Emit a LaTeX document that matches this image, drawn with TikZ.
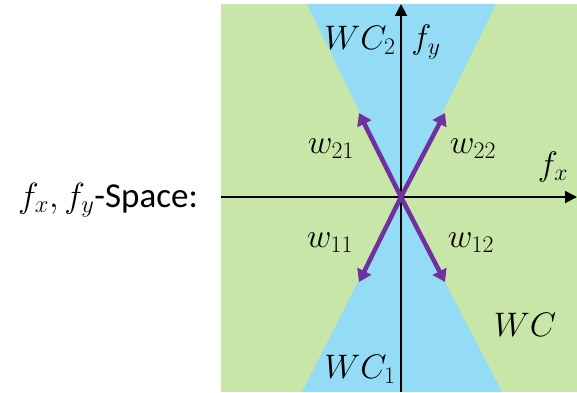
\RequirePackage{fix-cm}
\documentclass[tikz,border=0pt]{standalone}
\usepackage{fontspec}
\setmainfont{Carlito}
\usetikzlibrary{arrows.meta}
\definecolor{bggreen}{RGB}{200,230,167}
\definecolor{conblue}{RGB}{148,220,245}
\definecolor{wpurple}{RGB}{112,48,160}
\tikzset{
  axisline/.style={line width=2pt,-{Triangle[length=12pt,width=12pt]}},
  warrow/.style={line width=4.5pt,wpurple,-{Triangle[length=12pt,width=15pt]}},
  lbl/.style={inner sep=1pt,font=\fontsize{34}{36}\selectfont}
}
\begin{document}
\begin{tikzpicture}[x=1pt,y=1pt]
\useasboundingbox (0,0) rectangle (577,392);
% background regions
\fill[bggreen] (221,0) rectangle (577,388);
\fill[conblue] (307,388) -- (496,388) -- (401,195) -- cycle;
\fill[conblue] (401,195) -- (302,0) -- (502,0) -- cycle;
% coordinates
\coordinate (O) at (401,195);
\coordinate (xs) at (221,195);
\coordinate (xe) at (577,195);
\coordinate (ys) at (401,0);
\coordinate (ye) at (401,388);
\coordinate (t21) at (359,279);
\coordinate (t22) at (445,279);
\coordinate (t11) at (359,110);
\coordinate (t12) at (445,110);
% axes
\draw[axisline] (xs) -- (xe);
\draw[axisline] (ys) -- (ye);
% weight vectors
\draw[warrow] (O) -- (t21);
\draw[warrow] (O) -- (t22);
\draw[warrow] (O) -- (t11);
\draw[warrow] (O) -- (t12);
% labels
\node[lbl] (lwc2) at (360,352) {$WC_2$};
\node[lbl] (lfy) at (426,350) {$f_y$};
\node[lbl] (lfx) at (553,225) {$f_x$};
\node[lbl] (lw21) at (331,243) {$w_{21}$};
\node[lbl] (lw22) at (473,243) {$w_{22}$};
\node[lbl] (lw11) at (330,149) {$w_{11}$};
\node[lbl] (lw12) at (471,149) {$w_{12}$};
\node[lbl] (lwc) at (525,67) {$WC$};
\node[lbl] (lwc1) at (360,23) {$WC_1$};
\node[lbl,font=\fontsize{35}{37}\selectfont] (lspace) at (108,192) {$f_x,f_y$-Space:};
\end{tikzpicture}
\end{document}
